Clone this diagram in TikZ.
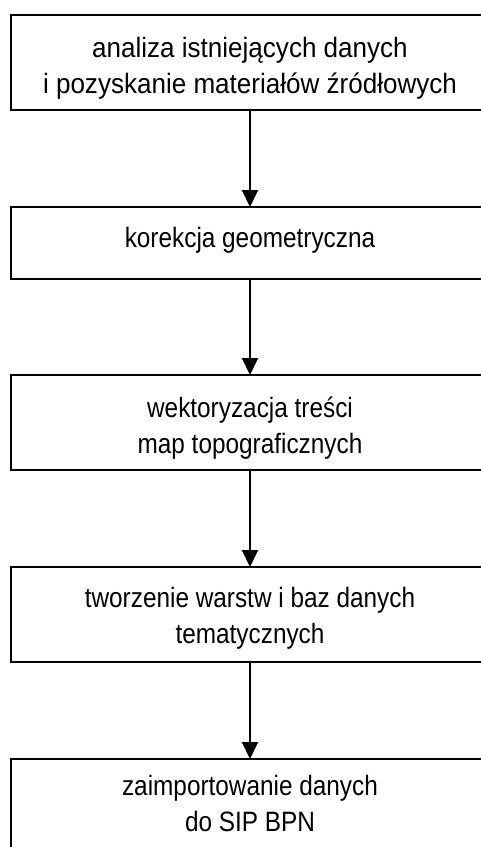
\documentclass[tikz,border=0pt]{standalone}
\usepackage{fontspec}
\setmainfont[FakeStretch=0.87]{Liberation Sans}
\newfontfamily\widerfont[FakeStretch=0.93]{Liberation Sans}
\usetikzlibrary{arrows.meta}
\begin{document}
\begin{tikzpicture}[x=1pt,y=-1pt,
  box/.style={draw=black,line width=1.8pt,minimum width=478pt,inner sep=0pt,outer sep=0pt},
  lbl/.style={align=center,inner sep=0pt,font=\fontsize{28}{36}\selectfont,anchor=base},
  flow/.style={line width=2pt,-{Triangle[width=16pt,length=17pt]}}]
\useasboundingbox (0,0) rectangle (480,847);
\node[box,minimum height=95pt] (b1) at (250,62.5) {};
\node[box,minimum height=72pt] (b2) at (250,243) {};
\node[box,minimum height=95pt] (b3) at (250,422.5) {};
\node[box,minimum height=95pt] (b4) at (250,614.5) {};
\node[box,minimum height=95pt] (b5) at (250,806.5) {};
\node[lbl,font=\widerfont\fontsize{28}{36}\selectfont] (t1) at (250,93) {analiza istniejących danych\\i pozyskanie materiałów źródłowych};
\node[lbl] (t2) at (250,247) {korekcja geometryczna};
\node[lbl] (t3) at (250,453) {wektoryzacja treści\\map topograficznych};
\node[lbl] (t4) at (250,643) {tworzenie warstw i baz danych\\tematycznych};
\node[lbl] (t5) at (250,831) {zaimportowanie danych\\do SIP BPN};
\draw[flow] (b1.south) -- (b2.north);
\draw[flow] (b2.south) -- (b3.north);
\draw[flow] (b3.south) -- (b4.north);
\draw[flow] (b4.south) -- (b5.north);
\end{tikzpicture}
\end{document}
